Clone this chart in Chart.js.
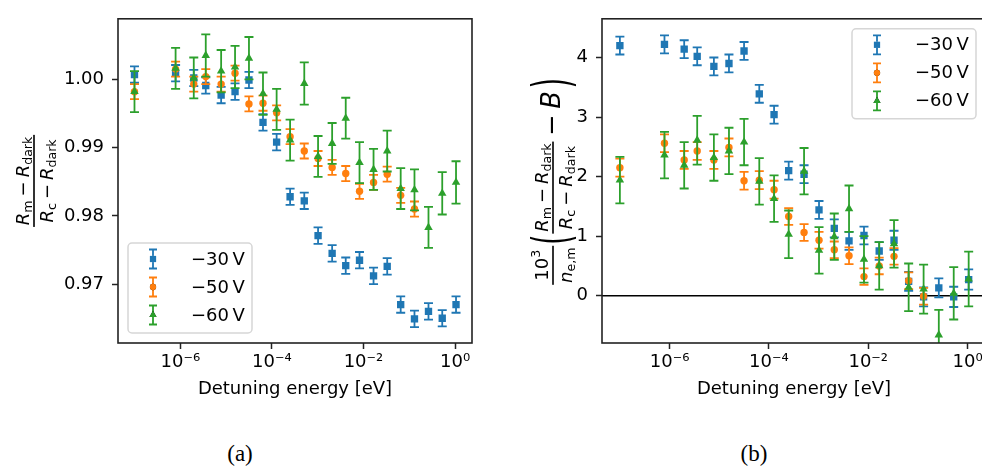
<!DOCTYPE html>
<html>
<head>
<meta charset="utf-8">
<script src="https://cdn.jsdelivr.net/npm/chart.js@4.4.1/dist/chart.umd.min.js"></script>
<style>
  html, body { margin: 0; padding: 0; background: #fff; overflow: hidden; }
  body { width: 982px; height: 469px; position: relative; }
  #wrapA { position: absolute; left: 0; top: 0; width: 500px; height: 400px; }
  #wrapB { position: absolute; left: 500px; top: 0; width: 520px; height: 400px; }
  .cap { position: absolute; top: 441px; width: 60px; text-align: center;
         font-family: "Liberation Serif", "DejaVu Serif", serif; font-size: 23px; color: #000; }
</style>
</head>
<body>
<div id="wrapA"><canvas id="chartA" width="500" height="400"></canvas></div>
<div id="wrapB"><canvas id="chartB" width="520" height="400"></canvas></div>
<div class="cap" style="left:210px">(a)</div>
<div class="cap" style="left:724px">(b)</div>

<script>
const FONT = '"DejaVu Sans", sans-serif';

// detuning energies [eV], shared by every series
const energies = [1.0e-7, 7.9e-7, 1.97e-6, 3.6e-6, 7.8e-6, 1.57e-5, 3.16e-5, 6.4e-5, 1.27e-4, 2.5e-4,
                  5.1e-4, 1.02e-3, 2.07e-3, 4.1e-3, 8.2e-3, 1.66e-2, 3.3e-2, 6.5e-2, 0.130, 0.263, 0.525, 1.05];

const xTicks = [1e-6, 1e-4, 1e-2, 1];
const xTickLabels = ['10⁻⁶', '10⁻⁴', '10⁻²', '10⁰'];

const seriesNames = ['\u221230\u2009V', '\u221250\u2009V', '\u221260\u2009V'];
const colors = ['#1f77b4', '#ff7f0e', '#2ca02c'];
const markers = ['rect', 'circle', 'triangle'];
const radii = [5.2, 3.7, 4.9];

// (a) normalised signal
const aTicks = [0.97, 0.98, 0.99, 1.00];
const aTickLabels = ['0.97', '0.98', '0.99', '1.00'];
const a30 = [1.0007, 1.0009, 1.0002, 0.9991, 0.9977, 0.9982, 0.9999, 0.9937, 0.9908, 0.9828, 0.9822,
             0.9771, 0.9745, 0.9727, 0.9735, 0.9712, 0.9726, 0.9670, 0.9649, 0.9660, 0.9650, 0.9670];
const a30err = [0.0012, 0.0012, 0.0012, 0.0012, 0.0012, 0.0012, 0.0012, 0.0012, 0.0012, 0.0012, 0.0012,
                0.0012, 0.0012, 0.0012, 0.0012, 0.0012, 0.0012, 0.0012, 0.0012, 0.0012, 0.0012, 0.0012];
const a50 = [0.9982, 1.0015, 0.9993, 1.0004, 0.9993, 1.0009, 0.9964, 0.9965, 0.9951, 0.9916,
             0.9895, 0.9884, 0.9871, 0.9862, 0.9836, 0.9849, 0.9861, 0.9830, 0.9810];
const a50err = [0.0011, 0.0011, 0.0011, 0.0011, 0.0011, 0.0011, 0.0011, 0.0011, 0.0011, 0.0011,
                0.0011, 0.0011, 0.0011, 0.0011, 0.0011, 0.0011, 0.0011, 0.0011, 0.0011];
const a60 = [0.9982, 1.0016, 1.0002, 1.0035, 1.0012, 1.0018, 1.0031, 0.9979, 0.9956, 0.9911, 0.9994,
             0.9887, 0.9906, 0.9943, 0.9878, 0.9868, 0.9895, 0.9840, 0.9838, 0.9783, 0.9833, 0.9849];
const a60err = [0.0030, 0.0030, 0.0030, 0.0031, 0.0031, 0.0031, 0.0031, 0.0031, 0.0030, 0.0030, 0.0031,
                0.0030, 0.0030, 0.0030, 0.0030, 0.0030, 0.0030, 0.0030, 0.0030, 0.0030, 0.0031, 0.0031];

// (b) background-corrected, scaled by density
const bTicks = [0, 1, 2, 3, 4];
const bTickLabels = ['0', '1', '2', '3', '4'];
const b30 = [4.20, 4.22, 4.14, 4.02, 3.85, 3.90, 4.11, 3.39, 3.04, 2.10, 2.04,
             1.44, 1.13, 0.92, 1.01, 0.75, 0.93, 0.24, -0.02, 0.13, -0.02, 0.27];
const b30err = [0.15, 0.15, 0.15, 0.15, 0.15, 0.15, 0.15, 0.15, 0.15, 0.15, 0.15,
                0.15, 0.15, 0.15, 0.15, 0.15, 0.16, 0.16, 0.16, 0.16, 0.17, 0.17];
const b50 = [2.15, 2.56, 2.28, 2.43, 2.28, 2.49, 1.93, 1.94, 1.78, 1.33,
             1.06, 0.93, 0.77, 0.67, 0.32, 0.50, 0.66, 0.25, -0.01];
const b50err = [0.15, 0.15, 0.15, 0.15, 0.15, 0.15, 0.15, 0.15, 0.15, 0.14,
                0.14, 0.14, 0.14, 0.14, 0.14, 0.14, 0.14, 0.14, 0.14];
const b60 = [1.94, 2.36, 2.19, 2.61, 2.32, 2.43, 2.58, 1.92, 1.63, 1.03, 2.09,
             0.76, 0.99, 1.46, 0.61, 0.50, 0.87, 0.14, 0.11, -0.66, 0.04, 0.28];
const b60err = [0.39, 0.39, 0.39, 0.41, 0.39, 0.39, 0.39, 0.39, 0.39, 0.40, 0.39,
                0.39, 0.39, 0.39, 0.39, 0.40, 0.40, 0.40, 0.41, 0.42, 0.44, 0.46];

function series(vals, errs, k) {
  return {
    label: seriesNames[k],
    data: vals.map((v, i) => ({ x: energies[i], y: v })),
    errors: errs,
    backgroundColor: colors[k],
    borderColor: colors[k],
    pointStyle: markers[k],
    pointRadius: radii[k],
    pointBorderWidth: 0,
    showLine: false,
    order: 3 - k   // later series on top
  };
}

// ---- little mathtext renderer for the axis labels ----
// runs: {t, it, sub, sup, op, size, base, gap}; parens: {paren, size, stretch, base}
function runFont(r, size) {
  const b = r.size || size;
  const s = (r.sub || r.sup) ? b * 0.7 : b;
  return (r.it ? 'italic ' : '') + s + 'px ' + FONT;
}
function runsWidth(ctx, runs, size) {
  let w = 0;
  for (const r of runs) {
    const b = r.size || size;
    ctx.font = runFont(r, size);
    w += ctx.measureText(r.t).width + (r.op ? b * 0.44 : 0) + (r.gap || 0);
  }
  return w;
}
function drawRuns(ctx, runs, x, base, size) {
  for (const r of runs) {
    const b = r.size || size;
    ctx.font = runFont(r, size);
    const dy = r.sub ? b * 0.2 : r.sup ? -b * 0.42 : 0;
    if (r.op) x += b * 0.22;
    ctx.fillText(r.t, x, base + dy);
    x += ctx.measureText(r.t).width + (r.gap || 0);
    if (r.op) x += b * 0.22;
  }
  return x;
}
function fracWidth(ctx, f, size) {
  return Math.max(runsWidth(ctx, f.num, size), runsWidth(ctx, f.den, size)) + size * 0.2;
}
function drawFrac(ctx, f, x, size) {
  const wn = runsWidth(ctx, f.num, size), wd = runsWidth(ctx, f.den, size);
  const w = Math.max(wn, wd) + size * 0.2;
  drawRuns(ctx, f.num, x + (w - wn) / 2, -size * 0.3, size);
  drawRuns(ctx, f.den, x + (w - wd) / 2, size * 1.03, size);
  ctx.fillRect(x, -0.8, w, 1.6);
  return w;
}
// stretched delimiter, centred on the fraction bar
function parenWidth(ctx, p) {
  ctx.font = p.size + 'px ' + FONT;
  return ctx.measureText(p.paren).width + 2;
}
function drawParen(ctx, p, x) {
  ctx.save();
  ctx.font = p.size + 'px ' + FONT;
  ctx.translate(x + 1, 0);
  ctx.scale(1, p.stretch);
  ctx.fillText(p.paren, 0, p.size * 0.315);
  ctx.restore();
  return parenWidth(ctx, p);
}
function itemWidth(ctx, it, size) {
  if (it.num) return fracWidth(ctx, it, size);
  if (it.paren) return parenWidth(ctx, it);
  return runsWidth(ctx, [it], size);
}
// drawn rotated about (cx, cy), the fraction bars sitting on cx
function drawMathLabel(ctx, items, cx, cy, size) {
  ctx.save();
  ctx.fillStyle = '#000';
  ctx.textAlign = 'left';
  ctx.textBaseline = 'alphabetic';
  let total = 0;
  for (const it of items) total += itemWidth(ctx, it, size);
  ctx.translate(cx, cy);
  ctx.rotate(-Math.PI / 2);
  let x = -total / 2;
  for (const it of items) {
    if (it.num) x += drawFrac(ctx, it, x, size);
    else if (it.paren) x += drawParen(ctx, it, x);
    else x = drawRuns(ctx, [it], x, it.base || 0, size);
  }
  ctx.restore();
}

const ratio = {
  num: [{ t: 'R', it: true }, { t: 'm', sub: true }, { t: '\u2212', op: true }, { t: 'R', it: true }, { t: 'dark', sub: true }],
  den: [{ t: 'R', it: true }, { t: 'c', sub: true }, { t: '\u2212', op: true }, { t: 'R', it: true }, { t: 'dark', sub: true }]
};
const labelA = [ratio];
const labelB = [
  { num: [{ t: '10' }, { t: '3', sup: true }], den: [{ t: 'n', it: true }, { t: 'e,m', sub: true }] },
  { paren: '(', size: 26, stretch: 2.0 },
  ratio,
  { t: '\u2212', op: true, size: 25.7, base: 7 },
  { t: 'B', it: true, size: 25.7, base: 7, gap: 2 },
  { paren: ')', size: 26, stretch: 2.0 }
];

// ---- plugins ----
const errorBars = {
  id: 'errorBars',
  beforeDatasetDraw(chart, args) {
    const ds = chart.data.datasets[args.index];
    if (!ds.errors) return;
    const ctx = chart.ctx, ys = chart.scales.y, a = chart.chartArea;
    ctx.save();
    ctx.beginPath();
    ctx.rect(a.left, a.top, a.right - a.left, a.bottom - a.top);
    ctx.clip();
    ctx.strokeStyle = ds.borderColor;
    ctx.lineWidth = 1.8;
    args.meta.data.forEach((pt, i) => {
      const v = ds.data[i].y, e = ds.errors[i];
      const t = ys.getPixelForValue(v + e), b = ys.getPixelForValue(v - e);
      ctx.beginPath();
      ctx.moveTo(pt.x, t); ctx.lineTo(pt.x, b);
      ctx.moveTo(pt.x - 4.5, t); ctx.lineTo(pt.x + 4.5, t);
      ctx.moveTo(pt.x - 4.5, b); ctx.lineTo(pt.x + 4.5, b);
      ctx.stroke();
    });
    ctx.restore();
  }
};

const decor = {
  id: 'decor',
  beforeDatasetsDraw(chart, args, opts) {
    if (!opts.zeroLine) return;
    const ctx = chart.ctx, a = chart.chartArea;
    const y0 = chart.scales.y.getPixelForValue(0);
    ctx.save();
    ctx.strokeStyle = '#000';
    ctx.lineWidth = 1.5;
    ctx.beginPath(); ctx.moveTo(a.left, y0); ctx.lineTo(a.right, y0); ctx.stroke();
    ctx.restore();
  },
  afterDatasetsDraw(chart, args, opts) {
    const ctx = chart.ctx, a = chart.chartArea;
    ctx.save();
    // frame
    ctx.strokeStyle = '#222';
    ctx.lineWidth = 1.6;
    ctx.strokeRect(a.left, a.top, a.right - a.left, a.bottom - a.top);

    // legend
    const bw = 124, bh = 90;
    const bx = opts.legendLeft ? a.left + 10 : a.right - 10 - bw;
    const by = opts.legendLeft ? a.bottom - 10 - bh : a.top + 10;
    ctx.fillStyle = 'rgba(255,255,255,0.8)';
    ctx.strokeStyle = '#d6d6d6';
    ctx.lineWidth = 1.5;
    ctx.beginPath();
    ctx.roundRect(bx, by, bw, bh, 4);
    ctx.fill();
    ctx.stroke();
    ctx.font = '18px ' + FONT;
    ctx.textBaseline = 'middle';
    ctx.textAlign = 'left';
    seriesNames.forEach((name, k) => {
      const cy = by + 16 + k * 28, cx = bx + 25;
      ctx.strokeStyle = colors[k];
      ctx.lineWidth = 1.8;
      ctx.beginPath();
      ctx.moveTo(cx, cy - 9.5); ctx.lineTo(cx, cy + 9.5);
      ctx.moveTo(cx - 4, cy - 9.5); ctx.lineTo(cx + 4, cy - 9.5);
      ctx.moveTo(cx - 4, cy + 9.5); ctx.lineTo(cx + 4, cy + 9.5);
      ctx.stroke();
      Chart.helpers.drawPoint(ctx, { pointStyle: markers[k], radius: radii[k] * 0.85, borderWidth: 0, rotation: 0 }, cx, cy);
      ctx.fillStyle = colors[k];
      ctx.fill();
      ctx.fillStyle = '#000';
      ctx.fillText(name, bx + 63, cy + 1);
    });
    ctx.restore();
  },
  afterDraw(chart, args, opts) {
    const ctx = chart.ctx, a = chart.chartArea;
    ctx.save();
    ctx.fillStyle = '#000';
    ctx.font = '18px ' + FONT;
    ctx.textAlign = 'center';
    ctx.textBaseline = 'alphabetic';
    ctx.fillText('Detuning energy [eV]', (a.left + a.right) / 2, 394);
    ctx.restore();
    drawMathLabel(ctx, opts.yLabel, opts.yLabelX, (a.top + a.bottom) / 2, opts.yLabelSize);
  }
};

function makePanel(id, p) {
  const tickGrid = { drawOnChartArea: false, drawTicks: true, tickLength: 6, tickWidth: 1.5, tickColor: '#222' };
  const tickFont = { family: FONT, size: 18 };
  return new Chart(document.getElementById(id), {
    type: 'scatter',
    data: { datasets: p.datasets },
    plugins: [errorBars, decor],
    options: {
      responsive: false,
      animation: false,
      layout: { padding: { left: 0, top: 7, right: p.padRight, bottom: 0 } },
      scales: {
        x: {
          type: 'logarithmic',
          min: Math.pow(10, -7.36),
          max: Math.pow(10, 0.37),
          afterBuildTicks: s => { s.ticks = xTicks.map(v => ({ value: v })); },
          afterFit: s => { s.height = 400 - 343; },
          ticks: { callback: (v, i) => xTickLabels[i], font: tickFont, color: '#000', padding: 3,
                   autoSkip: false, maxRotation: 0, minRotation: 0 },
          grid: tickGrid,
          border: { display: false }
        },
        y: {
          type: 'linear',
          min: p.yMin,
          max: p.yMax,
          afterBuildTicks: s => { s.ticks = p.yTicks.map(v => ({ value: v })); },
          afterFit: s => { s.width = p.left; },
          ticks: { callback: (v, i) => p.yTickLabels[i], font: tickFont, color: '#000', padding: 8 },
          grid: tickGrid,
          border: { display: false }
        }
      },
      plugins: {
        legend: { display: false },
        tooltip: { enabled: false },
        decor: p.decor
      }
    }
  });
}

makePanel('chartA', {
  left: 118, padRight: 28,
  yMin: 0.96137, yMax: 1.00887, yTicks: aTicks, yTickLabels: aTickLabels,
  datasets: [series(a30, a30err, 0), series(a50, a50err, 1), series(a60, a60err, 2)],
  decor: { legendLeft: true, zeroLine: false, yLabel: labelA, yLabelX: 34, yLabelSize: 18 }
});

makePanel('chartB', {
  left: 102, padRight: 34,
  yMin: -0.795, yMax: 4.65, yTicks: bTicks, yTickLabels: bTickLabels,
  datasets: [series(b30, b30err, 0), series(b50, b50err, 1), series(b60, b60err, 2)],
  decor: { legendLeft: false, zeroLine: true, yLabel: labelB, yLabelX: 53, yLabelSize: 18 }
});
</script>
</body>
</html>
